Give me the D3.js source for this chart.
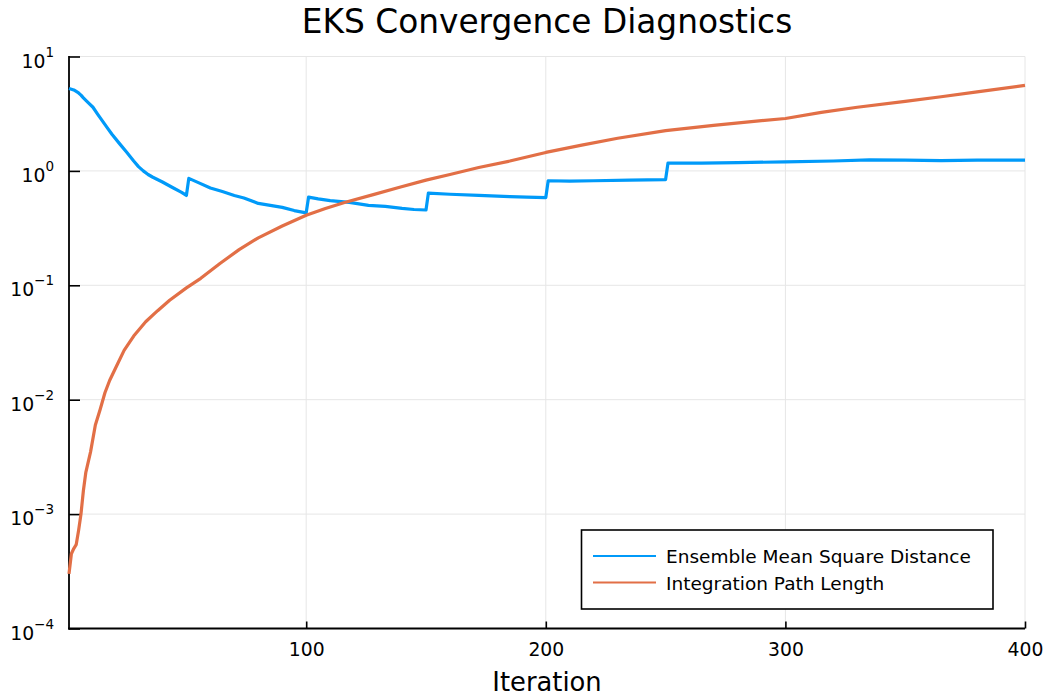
<!DOCTYPE html>
<html>
<head>
<meta charset="utf-8">
<script src="https://cdn.jsdelivr.net/npm/d3@7"></script>
<style>
  html, body { margin: 0; padding: 0; background: #fff; }
  svg { display: block; font-family: "DejaVu Sans", sans-serif; }
</style>
</head>
<body>
<svg id="chart" width="1047" height="697"></svg>
<script>
// Iteration numbers and values for each diagnostic
const msdIter = [1, 3, 5, 6, 7, 9, 11, 13, 15, 17, 19, 22, 25, 28, 30, 32, 34, 36, 40, 44, 48, 50,
  51, 55, 60, 65, 70, 74, 80, 85, 90, 95, 100,
  101, 105, 110, 118, 126, 133, 140, 145, 150,
  151, 160, 172, 185, 192, 200,
  201, 210, 220, 235, 250,
  251, 265, 280, 300, 320, 335, 350, 365, 380, 400];
const msdValue = [5.26, 5.1, 4.8, 4.6, 4.35, 3.95, 3.6, 3.12, 2.72, 2.38, 2.08, 1.74, 1.46, 1.22, 1.09, 1.0, 0.93, 0.88, 0.8, 0.72, 0.65, 0.61,
  0.86, 0.79, 0.71, 0.66, 0.61, 0.58, 0.52, 0.5, 0.48, 0.45, 0.43,
  0.59, 0.57, 0.55, 0.53, 0.5, 0.49, 0.47, 0.46, 0.455,
  0.64, 0.625, 0.61, 0.595, 0.59, 0.585,
  0.82, 0.815, 0.82, 0.83, 0.84,
  1.17, 1.17, 1.18, 1.2, 1.22, 1.25, 1.24, 1.23, 1.24, 1.24];

const pathIter = [1, 2, 3, 4, 5, 6, 7, 8, 10, 12, 14, 16, 18, 21, 24, 28, 33, 38, 43, 50,
  56, 64, 72, 80, 90, 100, 108, 116, 128, 139, 150, 160, 172, 185, 200,
  215, 230, 250, 270, 290, 300, 315, 330, 350, 365, 380, 400];
const pathValue = [3.0e-4, 4.5e-4, 5.0e-4, 5.4e-4, 7.2e-4, 1.0e-3, 1.6e-3, 2.3e-3, 3.5e-3, 6.0e-3, 8.2e-3, 1.15e-2, 1.48e-2, 2.0e-2, 2.7e-2, 3.6e-2, 4.8e-2, 6.0e-2, 7.4e-2, 9.5e-2,
  0.115, 0.155, 0.205, 0.26, 0.33, 0.41, 0.47, 0.53, 0.62, 0.72, 0.83, 0.93, 1.07, 1.22, 1.45,
  1.68, 1.93, 2.25, 2.5, 2.75, 2.87, 3.25, 3.6, 4.05, 4.45, 4.9, 5.6];

const seriesNames = ["Ensemble Mean Square Distance", "Integration Path Length"];
const seriesColors = ["#009af9", "#e26f46"];
const xTicks = [100, 200, 300, 400];
const yExponents = [-4, -3, -2, -1, 0, 1];
const titleText = "EKS Convergence Diagnostics";
const xLabel = "Iteration";

const svg = d3.select("#chart");
const plot = { left: 69, right: 1025, top: 56.5, bottom: 628.5 };

const x = d3.scaleLinear().domain([1, 400]).range([plot.left, plot.right]);
const y = d3.scaleLog().domain([1e-4, 1e1]).range([plot.bottom, plot.top]);

// grid
const grid = svg.append("g").attr("stroke", "#e6e6e6").attr("stroke-width", 1);
grid.selectAll("line.gx").data(xTicks).join("line")
  .attr("x1", d => x(d)).attr("x2", d => x(d))
  .attr("y1", plot.top).attr("y2", plot.bottom);
grid.selectAll("line.gy").data(yExponents).join("line")
  .attr("x1", plot.left).attr("x2", plot.right)
  .attr("y1", d => y(Math.pow(10, d))).attr("y2", d => y(Math.pow(10, d)));

// x axis: ticks point inward
const xAxis = d3.axisBottom(x).tickValues(xTicks).tickSize(-7).tickPadding(0).tickFormat(d3.format("d"));
const gx = svg.append("g").attr("transform", `translate(0,${plot.bottom})`).call(xAxis);
gx.select(".domain").remove();
gx.selectAll(".tick line").attr("stroke", "#000").attr("stroke-width", 1.6);
gx.selectAll(".tick text").attr("font-size", 18.8).attr("fill", "#000")
  .attr("font-family", "DejaVu Sans").attr("dy", null).attr("y", 27);

// y axis: ticks point inward, labels are powers of ten
const yAxis = d3.axisLeft(y).tickValues(yExponents.map(e => Math.pow(10, e))).tickSize(-11).tickFormat("");
const gy = svg.append("g").attr("transform", `translate(${plot.left},0)`).call(yAxis);
gy.select(".domain").remove();
gy.selectAll(".tick line").attr("stroke", "#000").attr("stroke-width", 1.6);

const yLabels = svg.append("g").attr("font-family", "DejaVu Sans").attr("fill", "#000");
yExponents.forEach(e => {
  const t = yLabels.append("text")
    .attr("x", 54).attr("y", y(Math.pow(10, e)) + 11)
    .attr("text-anchor", "end");
  t.append("tspan").attr("font-size", 18.8).text("10");
  t.append("tspan").attr("font-size", 13.5).attr("dy", -11)
    .text(e < 0 ? "\u2212" + Math.abs(e) : String(e));
});

// spines
svg.append("line").attr("x1", plot.left).attr("x2", plot.left)
  .attr("y1", plot.top - 0.5).attr("y2", plot.bottom + 1)
  .attr("stroke", "#000").attr("stroke-width", 1.8);
svg.append("line").attr("x1", plot.left - 1).attr("x2", plot.right)
  .attr("y1", plot.bottom).attr("y2", plot.bottom)
  .attr("stroke", "#000").attr("stroke-width", 1.8);

// series lines
const line = d3.line().x(d => x(d[0])).y(d => y(d[1]));
const series = [
  d3.zip(msdIter, msdValue),
  d3.zip(pathIter, pathValue)
];
series.forEach((s, i) => {
  svg.append("path").datum(s)
    .attr("d", line)
    .attr("fill", "none")
    .attr("stroke", seriesColors[i])
    .attr("stroke-width", 3.2)
    .attr("stroke-linejoin", "round");
});

// title and axis label
svg.append("text").attr("x", (plot.left + plot.right) / 2).attr("y", 33)
  .attr("text-anchor", "middle").attr("font-size", 32.8).attr("fill", "#000")
  .text(titleText);
svg.append("text").attr("x", (plot.left + plot.right) / 2).attr("y", 691)
  .attr("text-anchor", "middle").attr("font-size", 25.8).attr("fill", "#000")
  .text(xLabel);

// legend
const legend = svg.append("g");
legend.append("rect").attr("x", 581.5).attr("y", 530).attr("width", 411.5).attr("height", 79)
  .attr("fill", "#fff").attr("stroke", "#000").attr("stroke-width", 1.6);
seriesNames.forEach((name, i) => {
  const ly = 556 + i * 26.5;
  legend.append("line").attr("x1", 593).attr("x2", 656).attr("y1", ly).attr("y2", ly)
    .attr("stroke", seriesColors[i]).attr("stroke-width", 2);
  legend.append("text").attr("x", 666).attr("y", ly + 7)
    .attr("font-size", 18.5).attr("fill", "#000").text(name);
});
</script>
</body>
</html>
